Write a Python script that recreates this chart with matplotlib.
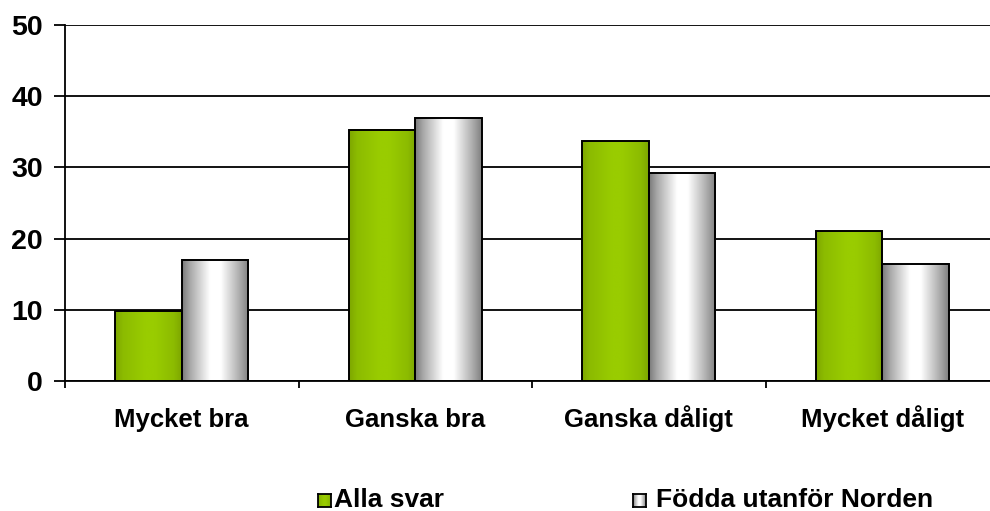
import numpy as np
import matplotlib
matplotlib.use("Agg")
import matplotlib.pyplot as plt
from matplotlib.colors import LinearSegmentedColormap

categories = ["Mycket bra", "Ganska bra", "Ganska dåligt", "Mycket dåligt"]
alla_svar = [9.8, 35.3, 33.7, 21.0]
fodda_utanfor = [17.0, 37.0, 29.2, 16.5]
series_names = ["Alla svar", "Födda utanför Norden"]
yticks = [0, 10, 20, 30, 40, 50]

plt.rcParams['font.family'] = ['Liberation Sans', 'DejaVu Sans']

W, H = 990, 511
fig = plt.figure(figsize=(W / 100, H / 100), dpi=100)
ax = fig.add_axes([65 / W, 130 / H, 934 / W, 356 / H])

green_cmap = LinearSegmentedColormap.from_list(
    "g", [(0.0, "#7da600"), (0.12, "#8cbb00"), (0.45, "#99cc00"),
          (0.6, "#99cc00"), (0.88, "#8cbb00"), (1.0, "#7da600")])
gray_cmap = LinearSegmentedColormap.from_list(
    "w", [(0.0, "#7a7a7a"), (0.12, "#a8a8a8"), (0.42, "#ffffff"),
          (0.58, "#ffffff"), (0.85, "#b0b0b0"), (1.0, "#7f7f7f")])
grad = np.linspace(0, 1, 256).reshape(1, -1)

x = np.arange(len(categories))
bw = 1 / 3.5

for vals, off, cmap in [(alla_svar, -bw / 2, green_cmap), (fodda_utanfor, bw / 2, gray_cmap)]:
    bars = ax.bar(x + off, vals, width=bw, facecolor="none", edgecolor="black",
                  linewidth=1.4, zorder=4)
    for b in bars:
        x0, w, h = b.get_x(), b.get_width(), b.get_height()
        ax.imshow(grad, cmap=cmap, extent=(x0, x0 + w, 0, h), aspect="auto",
                  zorder=3, interpolation="bilinear")

ax.set_xlim(-0.5, len(categories) - 0.5)
ax.set_ylim(0, 50)
ax.set_yticks(yticks)
ax.set_yticklabels([str(t) for t in yticks], fontsize=20.5, fontweight="bold")
ax.yaxis.grid(True, color="black", linewidth=1.3)
ax.set_axisbelow(True)

ax.set_xticks(np.arange(len(categories) + 1) - 0.5)
ax.set_xticklabels([])
ax.set_xticks(x, minor=True)
ax.set_xticklabels(categories, minor=True, fontsize=18.5, fontweight="bold",
                   va="baseline")
ax.tick_params(axis="x", which="minor", length=0, pad=33)
ax.tick_params(axis="x", which="major", length=5, width=1.3, direction="out")
ax.tick_params(axis="y", length=8, width=1.3, pad=8)

for s in ["top", "right"]:
    ax.spines[s].set_visible(False)
for s in ["left", "bottom"]:
    ax.spines[s].set_linewidth(1.3)

# legend drawn manually
leg_items = [(318, 334, green_cmap, series_names[0]), (633, 656, gray_cmap, series_names[1])]
for sx, tx, cmap, name in leg_items:
    lax = fig.add_axes([sx / W, (H - 507) / H, 13 / W, 13 / H])
    lax.imshow(grad, cmap=cmap, aspect="auto", interpolation="bilinear")
    lax.set_xticks([]); lax.set_yticks([])
    for sp in lax.spines.values():
        sp.set_linewidth(1.3)
    fig.text(tx / W, (H - 507) / H, name, fontsize=19, fontweight="bold",
             va="baseline", ha="left")

fig.savefig("out.png", dpi=100)
